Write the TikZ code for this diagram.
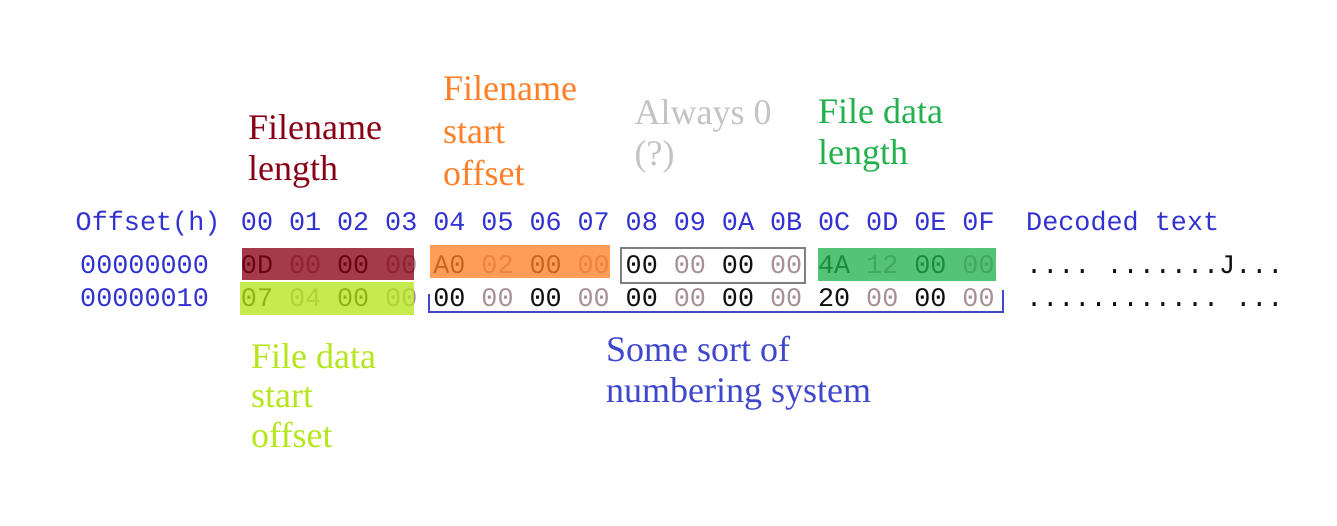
\documentclass[tikz,border=0pt]{standalone}
\usepackage{fontspec}
\setmainfont{Liberation Serif}
\setmonofont{Liberation Mono}
\definecolor{pDarkRed}{HTML}{880015}
\definecolor{pOrange}{HTML}{FF7F27}
\definecolor{pGreen}{HTML}{22B14C}
\definecolor{pLime}{HTML}{B5E61D}
\definecolor{pIndigo}{HTML}{3F48CC}
\definecolor{pSilver}{HTML}{C3C3C3}
\definecolor{pGray}{HTML}{7F7F7F}
\definecolor{hexBlue}{RGB}{50,50,210}
\definecolor{dk}{RGB}{16,16,16}
\definecolor{lt}{RGB}{165,145,150}
\begin{document}
\begin{tikzpicture}[x=1pt,y=-1pt,
  hexfont/.style={font=\fontsize{26.8}{30}\ttfamily, inner sep=0pt, anchor=base},
  hdr/.style={hexfont, text=hexBlue},
  lbl/.style={font=\fontsize{36}{41}\selectfont, align=left, anchor=north west, inner sep=0pt},
  marker/.style={fill opacity=0.77},
  graybox/.style={draw=pGray, line width=2pt},
  bracket/.style={draw=pIndigo, line width=2pt}]
\useasboundingbox (0,0) rectangle (1337,525);
\fill[white] (0,0) rectangle (1337,525);

% header
\node[hdr, anchor=base west] (offh) at (75.5,230) {Offset(h)};
\foreach \i/\t in {0/00,1/01,2/02,3/03,4/04,5/05,6/06,7/07,8/08,9/09,10/0A,11/0B,12/0C,13/0D,14/0E,15/0F}
  \node[hdr] (h\i) at ({257+48.1*\i},230) {\t};
\node[hdr, anchor=base west] (dech) at (1026,230) {Decoded text};

% offsets
\node[hdr, anchor=base west] (off0) at (80,273) {00000000};
\node[hdr, anchor=base west] (off1) at (80,306) {00000010};

% row 0
\foreach \i/\t/\c in {0/0D/dk,1/00/lt,2/00/dk,3/00/lt,4/A0/dk,5/02/lt,6/00/dk,7/00/lt,8/00/dk,9/00/lt,10/00/dk,11/00/lt,12/4A/dk,13/12/lt,14/00/dk,15/00/lt}
  \node[hexfont, text=\c] (a\i) at ({257+48.1*\i},273) {\t};
% row 1
\foreach \i/\t/\c in {0/07/dk,1/04/lt,2/00/dk,3/00/lt,4/00/dk,5/00/lt,6/00/dk,7/00/lt,8/00/dk,9/00/lt,10/00/dk,11/00/lt,12/20/dk,13/00/lt,14/00/dk,15/00/lt}
  \node[hexfont, text=\c] (b\i) at ({257+48.1*\i},306) {\t};

% decoded text
\node[hexfont, anchor=base west, text=dk] (dec0) at (1026,273) {.... .......J...};
\node[hexfont, anchor=base west, text=dk] (dec1) at (1026,306) {............ ...};

% highlighter marks
\fill[pDarkRed, marker] (242,248) rectangle (414,280);
\fill[pOrange, marker] (430,245) rectangle (610,278);
\fill[pGreen, marker] (818,248) rectangle (996,281);
\fill[pLime, marker] (240,282) rectangle (414,315);

% always-0 box
\draw[graybox] (621,248) rectangle (805,283);

% bracket under numbering bytes
\coordinate (brTL) at (428.5,294);
\coordinate (brBL) at (428.5,312);
\coordinate (brBR) at (1003,312);
\coordinate (brTR) at (1003,290);
\draw[bracket] (brTL) -- (brBL) -- (brBR) -- (brTR);

% labels
\node[lbl, text=pDarkRed] (lenlbl) at (248,114.6) {Filename\\length};
\node[lbl, text=pOrange, font=\fontsize{36}{42.3}\selectfont] (offlbl) at (443,75.6) {Filename\\start\\offset};
\node[lbl, text=pSilver] (alwlbl) at (634.5,99) {Always 0\\(?)};
\node[lbl, text=pGreen] (fdllbl) at (818,98.3) {File data\\length};
\node[lbl, text=pLime, font=\fontsize{36}{39.5}\selectfont] (fdslbl) at (251,343.3) {File data\\start\\offset};
\node[lbl, text=pIndigo] (numlbl) at (606,335.6) {Some sort of\\numbering system};
\end{tikzpicture}
\end{document}
